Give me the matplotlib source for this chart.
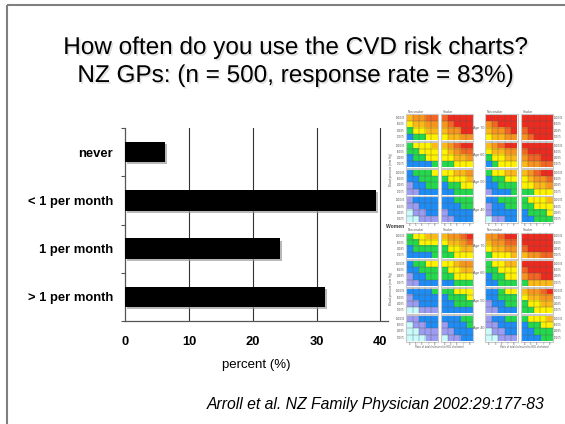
import numpy as np
import matplotlib
matplotlib.use('Agg')
import matplotlib.pyplot as plt
import matplotlib.patheffects as pe
from matplotlib.colors import ListedColormap

plt.rcParams['font.family'] = ['Liberation Sans', 'DejaVu Sans']

# 柱状图数据
categories = ['never', '< 1 per month', '1 per month', '> 1 per month']
percent = [6.2, 39.3, 24.2, 31.3]
x_ticks = [0, 10, 20, 30, 40]

# 右边的风险图：每个字符串是一行血压 (180/105 -> 120/75)，每个字母是胆固醇比 (4 -> 8)
# 每个年龄 4 张小图：non-smoker, smoker, diabetic non-smoker, diabetic smoker
risk_levels = 'CPBGYAODR'
level_colors = ['#c8fbfb', '#9c9cf0', '#1e8cf5', '#24d84c', '#fff200',
                '#fbb817', '#f7941d', '#f26522', '#ee2a1e']
ages = ['Age 70', 'Age 60', 'Age 50', 'Age 40']
bp_labels = ['180/105', '160/95', '140/85', '120/75']
ratio_labels = ['4', '5', '6', '7', '8']
col_titles = ['Non-smoker', 'Smoker', 'Non-smoker', 'Smoker']

men_70 = [['AOODD', 'YAAOO', 'GYYAA', 'BGGYY'],
          ['DRRRR', 'ODRRR', 'AOORR', 'YAAOO'],
          ['RRRRR', 'ODRRR', 'AOODR', 'YAAOO'],
          ['RRRRR', 'RRRRR', 'DRRRR', 'ODRRR']]
men_60 = [['GYYYA', 'GGYYY', 'BGGYY', 'BBBBG'],
          ['AODRR', 'YAODD', 'YYAAO', 'GGYYY'],
          ['AODRR', 'YAAOO', 'GYYAA', 'BGYYY'],
          ['RRRRR', 'DRRRR', 'ODDRR', 'AOODD']]
men_50 = [['BGGGY', 'BBGGG', 'PBBGG', 'PPBBB'],
          ['YYAAO', 'GYYYA', 'BGGYY', 'BBGGG'],
          ['GYYAA', 'BGGYY', 'BBGGG', 'PBBBG'],
          ['AODRR', 'YAOOD', 'YYAAO', 'GGYYY']]
men_40 = [['PBBBB', 'PPBBB', 'CPPBB', 'CCPPP'],
          ['BBGGG', 'BBBGG', 'PBBBB', 'PPBBB'],
          ['BBGGG', 'PBBGG', 'PBBBB', 'CPPBB'],
          ['GYYYA', 'GGYYY', 'BGGGY', 'BBGGG']]

women_70 = [['GYYAA', 'GGYYY', 'BGGGG', 'BBBBG'],
            ['AOODR', 'YAAOD', 'GYYAA', 'GGYYY'],
            ['OODRR', 'AOODD', 'YAAOO', 'GYYYA'],
            ['RRRRR', 'RRRRR', 'DRRRR', 'AOODD']]
women_60 = [['BGGYY', 'BBGGG', 'PBBGG', 'PPBBB'],
            ['YYAOO', 'GYYAA', 'GGYYY', 'BBGGG'],
            ['GYYAA', 'GGYYY', 'BGGYY', 'BBGGG'],
            ['RRRRR', 'DRRRR', 'ODDRR', 'GAAAA']]
women_50 = [['BBBBG', 'PBBBB', 'PPBBB', 'CCPPP'],
            ['GGYYY', 'BGGGY', 'BBGGG', 'BBBBB'],
            ['BBGYY', 'BBGGG', 'PBBGG', 'PPBBB'],
            ['AOODR', 'YAAOO', 'GYYAA', 'GGYYY']]
women_40 = [['PPBBB', 'CPPBB', 'CCPPP', 'CCCPP'],
            ['BBBGG', 'PBBBG', 'PPBBB', 'CPPBB'],
            ['PBBGG', 'PPBBB', 'CPPBB', 'CCPPP'],
            ['GYYYA', 'BGGYY', 'BBGGG', 'BBBGG']]


def to_grid(rows):
    return np.array([[risk_levels.index(ch) for ch in r] for r in rows])


fig = plt.figure(figsize=(5.65, 4.24), dpi=100)
fig.patch.set_facecolor('white')

# 整页的覆盖坐标系（像素坐标）
ov = fig.add_axes([0, 0, 1, 1])
ov.set_axis_off()
ov.patch.set_alpha(0)
cmap = ListedColormap(level_colors)

# 幻灯片边框
ov.plot([7, 565], [5, 5], color='#808080', lw=1.5, solid_capstyle='butt')
ov.plot([7, 7], [5, 424], color='#808080', lw=1.5, solid_capstyle='butt')

# 标题
shadow = [pe.SimplePatchShadow(offset=(1.2, -1.2), shadow_rgbFace='#999999', alpha=0.3), pe.Normal()]
ov.text(295, 48, 'How often do you use the CVD risk charts?', ha='center', va='center',
        fontsize=17.5, path_effects=shadow)
ov.text(295, 76, 'NZ GPs: (n = 500, response rate = 83%)', ha='center', va='center',
        fontsize=17.5, path_effects=shadow)

# 引用
ov.text(545, 405, 'Arroll et al. NZ Family Physician 2002:29:177-83', ha='right', va='center',
        fontsize=11.3, style='italic')

# 风险图
col_x = [406.5, 441.5, 486.0, 521.5]
pw, ph = 31.0, 25.0
for top, pitch, panels in [(115.0, 27.4, [men_70, men_60, men_50, men_40]),
                           (233.3, 27.5, [women_70, women_60, women_50, women_40])]:
    for i, age_panels in enumerate(panels):
        y0 = top + i * pitch
        for j, rows in enumerate(age_panels):
            x0 = col_x[j]
            ov.imshow(to_grid(rows), cmap=cmap, vmin=-0.5, vmax=8.5, aspect='auto',
                      interpolation='nearest', extent=(x0, x0 + pw, y0 + ph, y0))
            for k in range(1, 5):
                ov.plot([x0 + k * pw / 5] * 2, [y0, y0 + ph], color='#555555', lw=0.25)
            for k in range(1, 4):
                ov.plot([x0, x0 + pw], [y0 + k * ph / 4] * 2, color='#555555', lw=0.25)
            ov.add_patch(plt.Rectangle((x0 - 0.8, y0 - 0.8), pw + 1.6, ph + 1.6, fill=False,
                                       ec='#c8c8c8', lw=0.8))
        ov.text(479, y0 + ph / 2, ages[i], ha='center', va='center', fontsize=2.6, color='#555555')
        for k, lab in enumerate(bp_labels):
            yy = y0 + (k + 0.5) * ph / 4
            ov.text(405, yy, lab, ha='right', va='center', fontsize=1.8, color='#555555')
            ov.text(554, yy, lab, ha='left', va='center', fontsize=1.8, color='#555555')
    for j, t in enumerate(col_titles):
        ov.text(col_x[j] + 1, top - 3, t, ha='left', va='center', fontsize=2.2, color='#555555')
    ybot = top + 3 * pitch + ph + 3
    for j in range(4):
        for k, lab in enumerate(ratio_labels):
            ov.text(col_x[j] + (k + 0.5) * pw / 5, ybot, lab, ha='center', va='center',
                    fontsize=1.8, color='#555555')
    ov.text(391, top + 2 * pitch, 'Blood pressure (mm Hg)', rotation=90, ha='center', va='center',
            fontsize=2.2, color='#555555')
ov.text(386, 226, 'Women', ha='left', va='center', fontsize=3.6, fontweight='bold', color='#333333')
for cx in [440, 525]:
    ov.text(cx, 347, 'Ratio of total cholesterol to HDL cholesterol', ha='center', va='center',
            fontsize=1.8, color='#555555')

ov.set_xlim(0, 565)
ov.set_ylim(424, 0)

# 柱状图
ax = fig.add_axes([125.3 / 565, 1 - 321 / 424, 262.7 / 565, 193 / 424])
ax.patch.set_alpha(0)
ypos = np.arange(len(categories))
bars = ax.barh(ypos, percent, height=0.42, color='black', zorder=3)
for b in bars:
    b.set_path_effects([pe.SimplePatchShadow(offset=(1.5, -1.5), shadow_rgbFace='#9a9a9a', alpha=0.7),
                        pe.Normal()])
ax.set_xlim(0, 41.2)
ax.set_ylim(3.5, -0.5)
ax.set_xticks(x_ticks)
ax.set_xticklabels([str(t) for t in x_ticks], fontsize=9.3, fontweight='bold')
ax.set_yticks(ypos)
ax.set_yticklabels(categories, fontsize=9.4, fontweight='bold')
ax.set_yticks(np.arange(-0.5, len(categories)), minor=True)
ax.tick_params(axis='y', which='major', length=0, pad=9)
ax.tick_params(axis='y', which='minor', length=3, color='#555555', width=0.8)
ax.tick_params(axis='x', length=0, pad=11)
for t in x_ticks[1:]:
    ax.axvline(t, color='#333333', lw=0.8, zorder=1)
for s in ['top', 'right']:
    ax.spines[s].set_visible(False)
for s in ['left', 'bottom']:
    ax.spines[s].set_color('#555555')
    ax.spines[s].set_linewidth(0.9)
ax.set_xlabel('percent (%)', fontsize=9.5, labelpad=8)

fig.savefig('out.png', dpi=100)
